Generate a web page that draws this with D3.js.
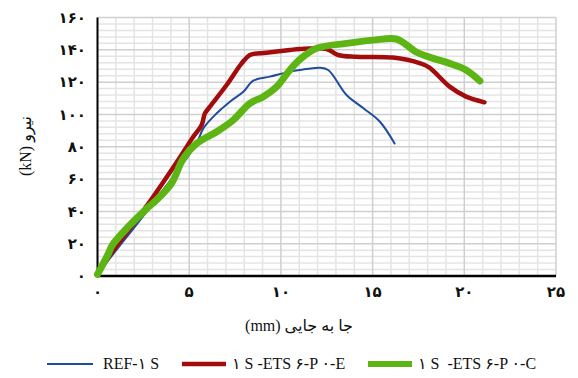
<!DOCTYPE html>
<html>
<head>
<meta charset="utf-8">
<script src="https://cdn.jsdelivr.net/npm/d3@7"></script>
<style>
  body { margin: 0; background: #fff; }
  svg text { font-family: "Liberation Serif", "DejaVu Sans", serif; fill: #111; white-space: pre; }
</style>
</head>
<body>
<div id="chart"></div>
<script>
// Data (displacement mm, load kN)
const refX = [0, 0.68, 3.3, 5.4, 5.77, 6.5, 7.22, 7.95, 8.49, 9.4, 10.5, 11.03, 12.1, 12.58, 13.58, 14.5, 15.4, 16.2];
const refY = [1, 11, 49, 82, 91.4, 100.7, 107.9, 114, 120.9, 123.4, 126.5, 127.5, 128.9, 127.5, 112, 103.8, 95.5, 82];

const eX = [0, 0.68, 2.6, 4.4, 5.22, 5.68, 5.86, 6.13, 7.04, 7.86, 8.31, 9.22, 10.49, 11.03, 12.49, 13.12, 14.1, 16.1, 17.6, 18.1, 19.2, 20.1, 21.1];
const eY = [1, 13, 42, 71.8, 86.2, 93.5, 100.7, 104.8, 118.2, 131.6, 136.8, 138.2, 139.9, 140.5, 140.5, 136.8, 135.7, 135.2, 131.6, 129, 117.2, 111, 107.5];

const cX = [0, 0.6, 0.8, 1.68, 2.6, 3.3, 4.04, 4.68, 5.4, 6.5, 7.4, 8.31, 9.04, 9.77, 10.49, 11.03, 11.95, 13.58, 15.03, 16.3, 16.85, 17.4, 18.3, 19.2, 20.1, 20.85];
const cY = [1, 14, 19, 30.5, 40.8, 48, 57.4, 72.8, 82, 89.3, 96.5, 106.9, 111, 117.2, 127.5, 134, 140.9, 144, 146, 146.7, 143, 138.5, 134.7, 131.6, 127.5, 120.7];

const seriesNames = ["REF-\u06F1 S", "\u06F1 S -ETS \u06F6-P \u06F0-E", "\u06F1 S  -ETS \u06F6-P \u06F0-C"];
const seriesColors = ["#1f4c9c", "#a30c0c", "#5cb512"];
const seriesWidths = [2, 4.5, 7];

const xTicks = [0, 5, 10, 15, 20, 25];
const yTicks = [0, 20, 40, 60, 80, 100, 120, 140, 160];

const faDigits = s => String(s).replace(/\d/g, d => String.fromCharCode(0x06F0 + +d));

const width = 578, height = 378;
const margin = { left: 97.5, right: 22, top: 17.5, bottom: 102 };

const svg = d3.select("#chart").append("svg")
  .attr("width", width)
  .attr("height", height);

const x = d3.scaleLinear().domain([0, 25]).range([margin.left, width - margin.right]);
const y = d3.scaleLinear().domain([0, 160]).range([height - margin.bottom, margin.top]);

// minor grid
const grid = svg.append("g");
grid.selectAll("line.vminor")
  .data(d3.range(1, 25).filter(v => v % 5 !== 0))
  .enter().append("line")
  .attr("x1", d => x(d)).attr("x2", d => x(d))
  .attr("y1", y(0)).attr("y2", y(160))
  .attr("stroke", "#e4e4e4").attr("stroke-width", 1.5);
grid.selectAll("line.hminor")
  .data(d3.range(4, 160, 4).filter(v => v % 20 !== 0))
  .enter().append("line")
  .attr("x1", x(0)).attr("x2", x(25))
  .attr("y1", d => y(d)).attr("y2", d => y(d))
  .attr("stroke", "#e4e4e4").attr("stroke-width", 1.5);

// major grid
grid.selectAll("line.vmajor")
  .data(xTicks.slice(1))
  .enter().append("line")
  .attr("x1", d => x(d)).attr("x2", d => x(d))
  .attr("y1", y(0)).attr("y2", y(160))
  .attr("stroke", "#cfcfcf").attr("stroke-width", 1.5);
grid.selectAll("line.hmajor")
  .data(yTicks.slice(1))
  .enter().append("line")
  .attr("x1", x(0)).attr("x2", x(25))
  .attr("y1", d => y(d)).attr("y2", d => y(d))
  .attr("stroke", "#cfcfcf").attr("stroke-width", 1.5);

// axes lines
svg.append("line")
  .attr("x1", x(0)).attr("x2", x(0)).attr("y1", y(0) + 1).attr("y2", y(160))
  .attr("stroke", "#000").attr("stroke-width", 2);
svg.append("line")
  .attr("x1", x(0) - 1).attr("x2", x(25)).attr("y1", y(0)).attr("y2", y(0))
  .attr("stroke", "#000").attr("stroke-width", 2.5);

// tick labels
svg.selectAll("text.ytick")
  .data(yTicks)
  .enter().append("text")
  .attr("x", 86)
  .attr("y", d => y(d))
  .attr("dy", "0.35em")
  .attr("text-anchor", "end")
  .style("font-size", "15px")
  .style("font-weight", "bold")
  .text(d => faDigits(d));

svg.selectAll("text.xtick")
  .data(xTicks)
  .enter().append("text")
  .attr("x", d => x(d))
  .attr("y", 297)
  .attr("text-anchor", "middle")
  .style("font-size", "15px")
  .style("font-weight", "bold")
  .text(d => faDigits(d));

// axis titles
svg.append("text")
  .attr("transform", "translate(31,146) rotate(-90)")
  .attr("text-anchor", "middle")
  .style("font-size", "16px")
  .text("(kN) \u0646\u06CC\u0631\u0648");

svg.append("text")
  .attr("x", 299)
  .attr("y", 331)
  .attr("text-anchor", "middle")
  .style("font-size", "16px")
  .text("(mm) \u062C\u0627 \u0628\u0647 \u062C\u0627\u06CC\u06CC");

// series
const series = [
  { xs: refX, ys: refY },
  { xs: eX, ys: eY },
  { xs: cX, ys: cY }
];
const line = d3.line()
  .x(d => x(d[0]))
  .y(d => y(d[1]))
  .curve(d3.curveCatmullRom.alpha(0.5));

series.forEach((s, i) => {
  const pts = s.xs.map((v, k) => [v, s.ys[k]]);
  svg.append("path")
    .datum(pts)
    .attr("fill", "none")
    .attr("stroke", seriesColors[i])
    .attr("stroke-width", seriesWidths[i])
    .attr("stroke-linejoin", "round")
    .attr("stroke-linecap", "round")
    .attr("d", line);
});

// legend
const legendX = [47, 182, 368];
const legend = svg.selectAll("g.legend")
  .data(seriesNames)
  .enter().append("g")
  .attr("transform", (d, i) => `translate(${legendX[i]},364)`);
legend.append("line")
  .attr("x1", 0).attr("x2", (d, i) => i === 0 ? 46 : 44)
  .attr("y1", 0).attr("y2", 0)
  .attr("stroke", (d, i) => seriesColors[i])
  .attr("stroke-width", (d, i) => [2, 4.5, 6][i]);
legend.append("text")
  .attr("x", (d, i) => i === 0 ? 56 : 50)
  .attr("y", 5)
  .style("font-size", "16px")
  .text(d => d);
</script>
</body>
</html>
